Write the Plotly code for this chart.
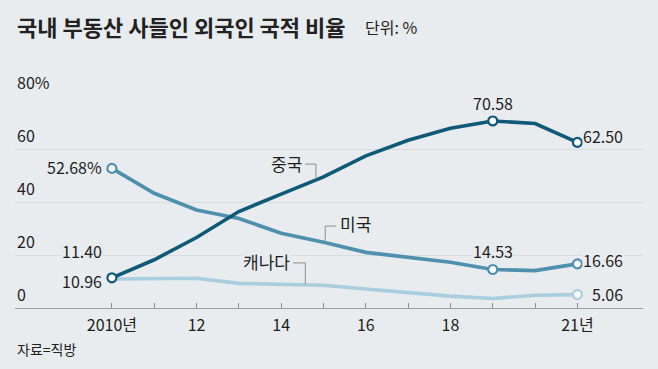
import plotly.graph_objects as go

years = [2010, 2011, 2012, 2013, 2014, 2015, 2016, 2017, 2018, 2019, 2020, 2021]
china = [11.40, 18.2, 26.6, 36.4, 43.0, 49.5, 57.4, 63.3, 67.8, 70.58, 69.6, 62.50]
usa = [52.68, 43.3, 37.0, 33.8, 28.2, 24.8, 21.0, 19.0, 17.3, 14.53, 14.1, 16.66]
canada = [10.96, 11.2, 11.2, 9.3, 8.8, 8.6, 7.2, 5.7, 4.5, 3.6, 4.8, 5.06]

tick_vals = [2010, 2012, 2014, 2016, 2018, 2021]
tick_text = ["2010년", "12", "14", "16", "18", "21년"]
y_vals = [0, 20, 40, 60, 80]
y_text = ["0", "20", "40", "60", "80%"]

BG = "#e8ecee"
C_CN = "#0f5a78"
C_US = "#4f90ae"
C_CA = "#a8cee0"
FONT = "Noto Sans CJK KR"
TXT = "#1e1e1e"

fig = go.Figure()

for ys, col in [(canada, C_CA), (usa, C_US), (china, C_CN)]:
    fig.add_trace(go.Scatter(x=years, y=ys, mode="lines",
                             line=dict(color=col, width=3.6),
                             hoverinfo="skip", showlegend=False))

def mark(idx, ys, col):
    fig.add_trace(go.Scatter(x=[years[i] for i in idx], y=[ys[i] for i in idx],
                             mode="markers",
                             marker=dict(size=9, color="white", line=dict(color=col, width=2.2)),
                             hoverinfo="skip", showlegend=False, cliponaxis=False))

mark([11], canada, C_CA)
mark([0, 9, 11], usa, C_US)
mark([0, 9, 11], china, C_CN)

ann = []
def lab(x, y, text, xanchor="center", xshift=0, yshift=0, size=16, bg=BG):
    ann.append(dict(x=x, y=y, text=text, showarrow=False, xanchor=xanchor, yanchor="middle",
                    xshift=xshift, yshift=yshift, bgcolor=bg, borderpad=0,
                    font=dict(family=FONT, size=size, color=TXT)))

lab(years[0], usa[0], "52.68%", "right", -9, 1)
lab(years[0], china[0], f"{china[0]:.2f}", "right", -9, 27)
lab(years[0], canada[0], f"{canada[0]:.2f}", "right", -9, -2)
lab(years[9], china[9], f"{china[9]:.2f}", "center", 0, 18)
lab(years[11], china[11], f"{china[11]:.2f}", "left", 5, 6)
lab(years[9], usa[9], f"{usa[9]:.2f}", "center", 0, 19)
lab(years[11], usa[11], f"{usa[11]:.2f}", "left", 5, 4)
lab(years[11], canada[11], f"{canada[11]:.2f}", "left", 14, 1)

lab(2014.57, 54.5, "중국", "right", -2, 0, 17)
lab(2015.32, 30.8, "미국", "left", 2, 3, 17)
lab(2014.28, 17.0, "캐나다", "right", -2, 1, 17)

for v, t in zip(y_vals, y_text):
    ann.append(dict(xref="paper", x=0, y=v, text=t, showarrow=False, xanchor="left",
                    yanchor="middle", yshift=14,
                    font=dict(family=FONT, size=16, color=TXT)))

ann.append(dict(xref="paper", yref="paper", x=0, y=1, xanchor="left", yanchor="middle",
                yshift=70, text="<b>국내 부동산 사들인 외국인 국적 비율</b>", showarrow=False,
                font=dict(family=FONT, size=22, color="#222")))
ann.append(dict(xref="paper", yref="paper", x=0, y=1, xanchor="left", yanchor="middle",
                xshift=348, yshift=69, text="단위: %", showarrow=False,
                font=dict(family=FONT, size=16, color="#222")))
ann.append(dict(xref="paper", yref="paper", x=0, y=0, xanchor="left", yanchor="middle",
                yshift=-41, text="자료=직방", showarrow=False,
                font=dict(family=FONT, size=14, color="#222")))

LC = "#8a8e90"
shapes = [
    dict(type="path", xref="x", yref="y", path="M 2014.57,54.3 L 2014.82,54.3 L 2014.82,48.6",
         line=dict(color=LC, width=1)),
    dict(type="path", xref="x", yref="y", path="M 2015.30,30.9 L 2015.04,30.9 L 2015.04,25.0",
         line=dict(color=LC, width=1)),
    dict(type="path", xref="x", yref="y", path="M 2014.28,17.0 L 2014.57,17.0 L 2014.57,9.0",
         line=dict(color=LC, width=1)),
]

fig.update_layout(
    width=658, height=369,
    paper_bgcolor=BG, plot_bgcolor=BG,
    margin=dict(l=15, r=15, t=96, b=61),
    annotations=ann, shapes=shapes,
    xaxis=dict(range=[2007.71, 2022.55], tickvals=list(range(2010, 2022)),
               ticktext=[tick_text[tick_vals.index(y)] if y in tick_vals else "" for y in range(2010, 2022)],
               ticks="inside", ticklen=5, tickcolor="#8a8e90", tickwidth=1,
               showline=True, linecolor="#9a9ea0", linewidth=1,
               showgrid=False, zeroline=False, ticklabelstandoff=3,
               tickfont=dict(family=FONT, size=16, color=TXT)),
    yaxis=dict(range=[0, 80], tickvals=y_vals, showticklabels=False,
               showgrid=True, gridcolor="#d8dcde", gridwidth=1, zeroline=False,
               showline=False, ticks=""),
    font=dict(family=FONT),
)

fig.write_html("out.html", config={"displayModeBar": False},
               post_script="document.body.style.margin='0';document.body.style.background='#e8ecee';")
